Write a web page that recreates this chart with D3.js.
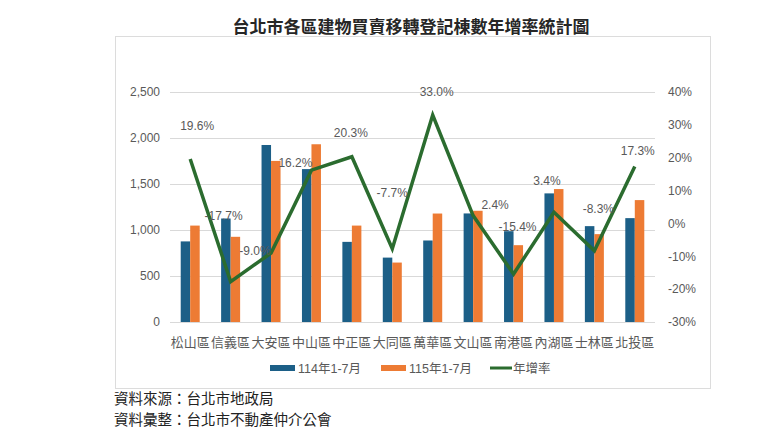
<!DOCTYPE html>
<html>
<head>
<meta charset="utf-8">
<script src="https://cdn.jsdelivr.net/npm/d3@7"></script>
<style>
  body { margin: 0; background: #fff; }
  text { font-family: "Liberation Sans", "Noto Sans CJK TC", sans-serif; }
</style>
</head>
<body>
<div id="wrapper"></div>
<script>
const districts = ["松山區", "信義區", "大安區", "中山區", "中正區", "大同區", "萬華區", "文山區", "南港區", "內湖區", "士林區", "北投區"];
const y114 = [876, 1125, 1924, 1662, 871, 700, 886, 1180, 987, 1398, 1042, 1129];
const y115 = [1048, 926, 1751, 1932, 1048, 646, 1179, 1209, 835, 1445, 955, 1325];
const growth = [19.6, -17.7, -9.0, 16.2, 20.3, -7.7, 33.0, 2.4, -15.4, 3.4, -8.3, 17.3];
const leftTicks = [0, 500, 1000, 1500, 2000, 2500];
const rightTicks = [-30, -20, -10, 0, 10, 20, 30, 40];
const seriesNames = ["114年1-7月", "115年1-7月", "年增率"];

// label nudges (dx, dy from the point) -- the original labels were hand placed
const labelNudge = [[7, -34], [-7, -66], [-16, -3], [-16, -8], [-1, -24], [0, -56],
                    [4, -24], [22, -11], [4, -48], [-7, -32], [4, -42], [3, -16]];

const colors = { a: "#1c5f87", b: "#ed7b34", line: "#2b6c2f", text: "#595959", grid: "#d9d9d9" };

function draw() {
  const width = 760, height = 442;
  const plot = { left: 170, right: 655, top: 92, bottom: 322 };

  const svg = d3.select("#wrapper")
    .append("svg")
      .attr("width", width)
      .attr("height", height);

  // chart box
  svg.append("rect")
    .attr("x", 115.5).attr("y", 36.5)
    .attr("width", 595).attr("height", 352)
    .attr("fill", "none")
    .attr("stroke", "#dcdcdc");

  svg.append("text")
    .attr("x", 411).attr("y", 33)
    .attr("text-anchor", "middle")
    .attr("font-size", 17)
    .attr("font-weight", "bold")
    .attr("fill", "#262626")
    .text("台北市各區建物買賣移轉登記棟數年增率統計圖");

  const x = d3.scaleBand().domain(districts).range([plot.left, plot.right]);
  const xSub = d3.scaleBand().domain(["a", "b"]).range([0, 19]);
  const yLeft = d3.scaleLinear().domain([0, 2500]).range([plot.bottom, plot.top]);
  const yRight = d3.scaleLinear().domain([-30, 40]).range([plot.bottom, plot.top]);

  // grid
  svg.append("g")
    .selectAll("line")
    .data(leftTicks)
    .join("line")
      .attr("x1", plot.left).attr("x2", plot.right)
      .attr("y1", d => Math.round(yLeft(d)) + 0.5)
      .attr("y2", d => Math.round(yLeft(d)) + 0.5)
      .attr("stroke", colors.grid);

  // left axis
  const leftAxis = svg.append("g")
    .attr("transform", "translate(" + (plot.left - 10) + ",0)")
    .call(d3.axisLeft(yLeft).tickValues(leftTicks).tickSize(0).tickPadding(0).tickFormat(d3.format(",")));
  leftAxis.select(".domain").remove();
  leftAxis.selectAll("text").attr("font-size", 12).attr("fill", colors.text)
    .attr("font-family", "Liberation Sans, sans-serif");

  // right axis
  const rightAxis = svg.append("g")
    .attr("transform", "translate(" + (plot.right + 13) + ",0)")
    .call(d3.axisRight(yRight).tickValues(rightTicks).tickSize(0).tickPadding(0).tickFormat(d => d + "%"));
  rightAxis.select(".domain").remove();
  rightAxis.selectAll("text").attr("font-size", 12).attr("fill", colors.text)
    .attr("font-family", "Liberation Sans, sans-serif");

  // bars
  const rows = districts.map((d, i) => ({ d, a: y114[i], b: y115[i] }));
  const groups = svg.append("g")
    .selectAll("g")
    .data(rows)
    .join("g")
      .attr("transform", r => "translate(" + (x(r.d) + x.bandwidth() / 2 - 9.5) + ",0)");
  groups.selectAll("rect")
    .data(r => ["a", "b"].map(k => ({ k, v: r[k] })))
    .join("rect")
      .attr("x", s => xSub(s.k))
      .attr("width", xSub.bandwidth())
      .attr("y", s => yLeft(s.v))
      .attr("height", s => plot.bottom - yLeft(s.v))
      .attr("fill", s => colors[s.k]);

  // category labels
  svg.append("g")
    .selectAll("text")
    .data(districts)
    .join("text")
      .attr("x", d => x(d) + x.bandwidth() / 2)
      .attr("y", 347)
      .attr("text-anchor", "middle")
      .attr("font-size", 13)
      .attr("fill", colors.text)
      .text(d => d);

  // growth line
  const line = d3.line()
    .x((v, i) => x(districts[i]) + x.bandwidth() / 2)
    .y(v => yRight(v));
  svg.append("path")
    .attr("d", line(growth))
    .attr("fill", "none")
    .attr("stroke", colors.line)
    .attr("stroke-width", 3.5)
    .attr("stroke-linejoin", "miter");

  svg.append("g")
    .selectAll("text")
    .data(growth)
    .join("text")
      .attr("x", (v, i) => x(districts[i]) + x.bandwidth() / 2 + labelNudge[i][0])
      .attr("y", (v, i) => yRight(v) + labelNudge[i][1] + 4.5)
      .attr("text-anchor", "middle")
      .attr("font-size", 12)
      .attr("fill", colors.text)
      .text(v => v.toFixed(1) + "%");

  // legend
  const legend = svg.append("g");
  const legendX = [270, 381, 490];
  const legendKeys = ["a", "b", "line"];
  legendKeys.forEach((k, i) => {
    if (k === "line") {
      legend.append("line")
        .attr("x1", legendX[i]).attr("x2", legendX[i] + 22)
        .attr("y1", 368).attr("y2", 368)
        .attr("stroke", colors.line).attr("stroke-width", 3);
    } else {
      legend.append("rect")
        .attr("x", legendX[i]).attr("y", 365)
        .attr("width", 25).attr("height", 6)
        .attr("fill", colors[k]);
    }
    legend.append("text")
      .attr("x", legendX[i] + (k === "line" ? 23 : 28))
      .attr("y", 372.5)
      .attr("font-size", 12.5)
      .attr("fill", colors.text)
      .text(seriesNames[i]);
  });

  // notes
  svg.append("text")
    .attr("x", 114).attr("y", 404)
    .attr("font-size", 14.5)
    .attr("fill", "#222")
    .text("資料來源：台北市地政局");
  svg.append("text")
    .attr("x", 114).attr("y", 425)
    .attr("font-size", 14.5)
    .attr("fill", "#222")
    .text("資料彙整：台北市不動產仲介公會");
}
draw();
</script>
</body>
</html>
